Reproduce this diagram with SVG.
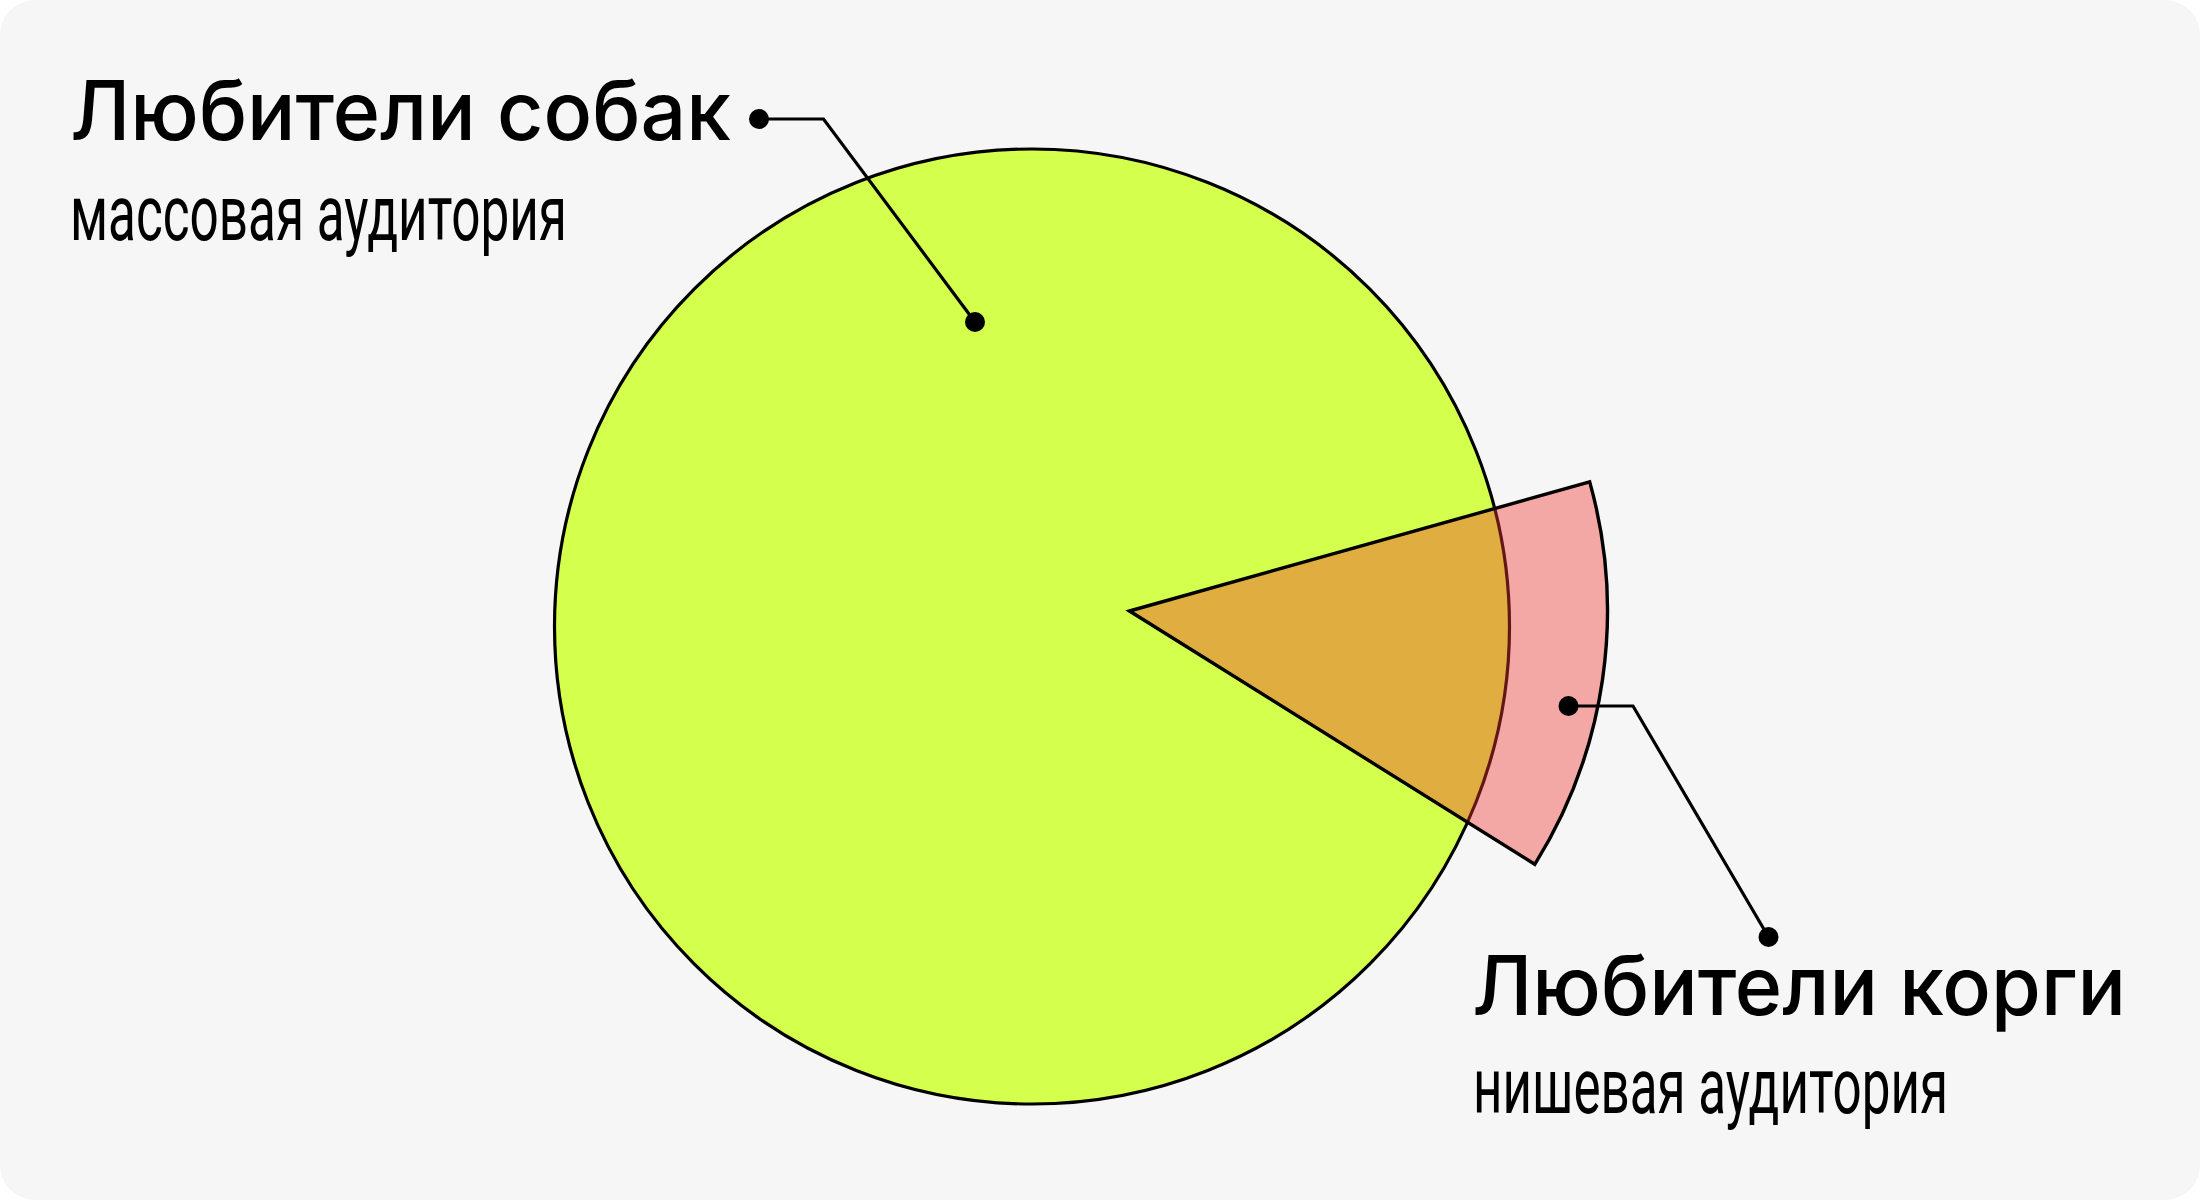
<svg xmlns="http://www.w3.org/2000/svg" width="2200" height="1200" viewBox="0 0 2200 1200">
  <style>
    .head { font-family: Inter, "Liberation Sans", sans-serif; font-size: 82px; font-weight: 500; fill: #000; }
    .sub { font-family: Roboto, "Liberation Sans", sans-serif; font-size: 77px; font-weight: 400; fill: #000; }
    .lead { fill: none; stroke: #000; stroke-width: 3.2; }
    .dot { fill: #000; }
  </style>
  <rect x="0" y="0" width="2200" height="1200" fill="#ffffff"/>
  <rect x="0" y="0" width="2200" height="1200" rx="35" ry="35" fill="#f6f6f6"/>

  <g id="dog-lovers">
    <circle cx="1032" cy="626.5" r="477.5" fill="#d4ff4c" stroke="#000" stroke-width="3.2"/>
  </g>
  <g id="corgi-lovers">
    <path d="M1129.5,611 L1589.7,481.9 A478,478 0 0 1 1534.8,864.3 Z" fill="#f03931" fill-opacity="0.41" stroke="none"/>
    <path d="M1129.5,611 L1589.7,481.9 A478,478 0 0 1 1534.8,864.3 Z" fill="none" stroke="#000" stroke-width="3.4" stroke-linejoin="miter"/>
  </g>

  <g id="connectors">
    <polyline class="lead" points="759,119 823.5,119 975,322"/>
    <circle class="dot" cx="759" cy="119" r="10"/>
    <circle class="dot" cx="975" cy="322" r="10"/>
    <polyline class="lead" points="1568.5,706 1633,706 1768.5,937"/>
    <circle class="dot" cx="1568.5" cy="706" r="10"/>
    <circle class="dot" cx="1768.5" cy="937" r="10"/>
  </g>

  <g id="label-dogs">
    <text class="head" x="70" y="140" textLength="661" lengthAdjust="spacingAndGlyphs">Любители собак</text>
    <text class="sub" x="70" y="240" textLength="497" lengthAdjust="spacingAndGlyphs">массовая аудитория</text>
  </g>
  <g id="label-corgi">
    <text class="head" x="1472" y="1015" textLength="654" lengthAdjust="spacingAndGlyphs">Любители корги</text>
    <text class="sub" x="1473" y="1113" textLength="475" lengthAdjust="spacingAndGlyphs">нишевая аудитория</text>
  </g>
</svg>
